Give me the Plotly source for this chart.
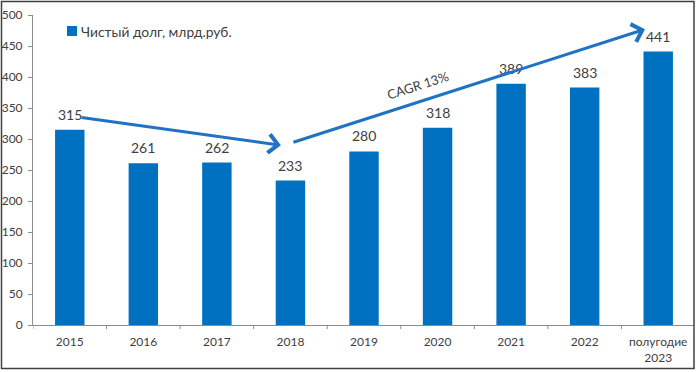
import plotly.graph_objects as go

categories = ["2015", "2016", "2017", "2018", "2019", "2020", "2021", "2022", "полугодие<br>2023"]
net_debt = [315, 261, 262, 233, 280, 318, 389, 383, 441]
series_name = "Чистый долг, млрд.руб."
y_ticks = list(range(0, 501, 50))

# arrows (category index, value) : start -> end
arrow1_start = (0.14, 335)
arrow1_end = (2.87, 290)
arrow2_start = (3.02, 294)
arrow2_end = (7.82, 477)
cagr_label = "CAGR 13%"
cagr_pos = (4.74, 387)

W, H = 700, 372
ML, MR, MT, MB = 33, 5, 15, 47
BAR = "#0070c0"
ARROW = "#1f72c4"
TXT = "#404040"
AX = "#8c8c8c"
FONT = "Lato, 'Open Sans', sans-serif"

pw = W - ML - MR
ph = H - MT - MB
def px_x(p):
    return (p - ML) / pw
def px_y(p):
    return (H - MB - p) / ph

fig = go.Figure()
fig.add_trace(go.Bar(
    x=list(range(len(categories))), y=net_debt, name=series_name,
    marker=dict(color=BAR, line=dict(width=0)),
    showlegend=False, hoverinfo="x+y",
))

# value labels
for i, v in enumerate(net_debt):
    fig.add_annotation(x=i, y=v, xref="x", yref="y", text=str(v), showarrow=False,
                       yanchor="bottom", yshift=5,
                       font=dict(size=14, color=TXT, family=FONT))

for s, e in [(arrow1_start, arrow1_end), (arrow2_start, arrow2_end)]:
    fig.add_annotation(
        x=e[0], y=e[1], ax=s[0], ay=s[1], xref="x", yref="y", axref="x", ayref="y",
        showarrow=True, arrowhead=4, arrowsize=1.2, arrowwidth=3, arrowcolor=ARROW,
        text="",
    )
fig.add_annotation(
    x=cagr_pos[0], y=cagr_pos[1], xref="x", yref="y", text=cagr_label, showarrow=False,
    textangle=-17.7, font=dict(size=13, color=TXT, family=FONT),
)

# legend (manual, compact)
fig.add_shape(type="rect", xref="paper", yref="paper",
              x0=px_x(67), x1=px_x(77), y0=px_y(36), y1=px_y(26),
              fillcolor=BAR, line=dict(width=0))
fig.add_annotation(xref="paper", yref="paper", x=px_x(79), y=px_y(31),
                   xanchor="left", yanchor="middle", showarrow=False,
                   text=series_name, font=dict(size=13.8, color=TXT, family=FONT))

# outer border
fig.add_shape(type="rect", xref="paper", yref="paper",
              x0=px_x(1.5), x1=px_x(694), y0=px_y(368.5), y1=px_y(1.5),
              line=dict(color="#404040", width=1.5), fillcolor="rgba(0,0,0,0)", layer="above")

fig.update_layout(
    width=W, height=H, autosize=False,
    margin=dict(l=ML, r=MR, t=MT, b=MB, autoexpand=False),
    paper_bgcolor="white", plot_bgcolor="white",
    bargap=0.6, showlegend=False,
    font=dict(family=FONT, color=TXT, size=11),
    xaxis=dict(
        tickmode="array", tickvals=list(range(len(categories))), ticktext=categories,
        range=[-0.5, len(categories) - 0.5], automargin=False,
        showline=True, linecolor=AX, linewidth=1,
        ticks="", showgrid=False, zeroline=False, ticklabelstandoff=6,
        tickfont=dict(size=12, color=TXT, family=FONT),
    ),
    yaxis=dict(
        range=[0, 500], tickvals=y_ticks, showline=True, linecolor=AX, linewidth=1,
        automargin=False,
        ticks="outside", ticklen=4, tickcolor=AX, showgrid=False, zeroline=False,
        ticklabelstandoff=3,
        tickfont=dict(size=12, color=TXT, family=FONT),
    ),
)

# boundary tick marks on x axis
for i in range(len(categories) + 1):
    fig.add_shape(type="line", xref="x", yref="paper", x0=i - 0.5, x1=i - 0.5,
                  y0=0, y1=-4 / ph, line=dict(color=AX, width=1))

fig.write_html("out.html", config={"displayModeBar": False},
               post_script="document.body.style.margin='0px';")
